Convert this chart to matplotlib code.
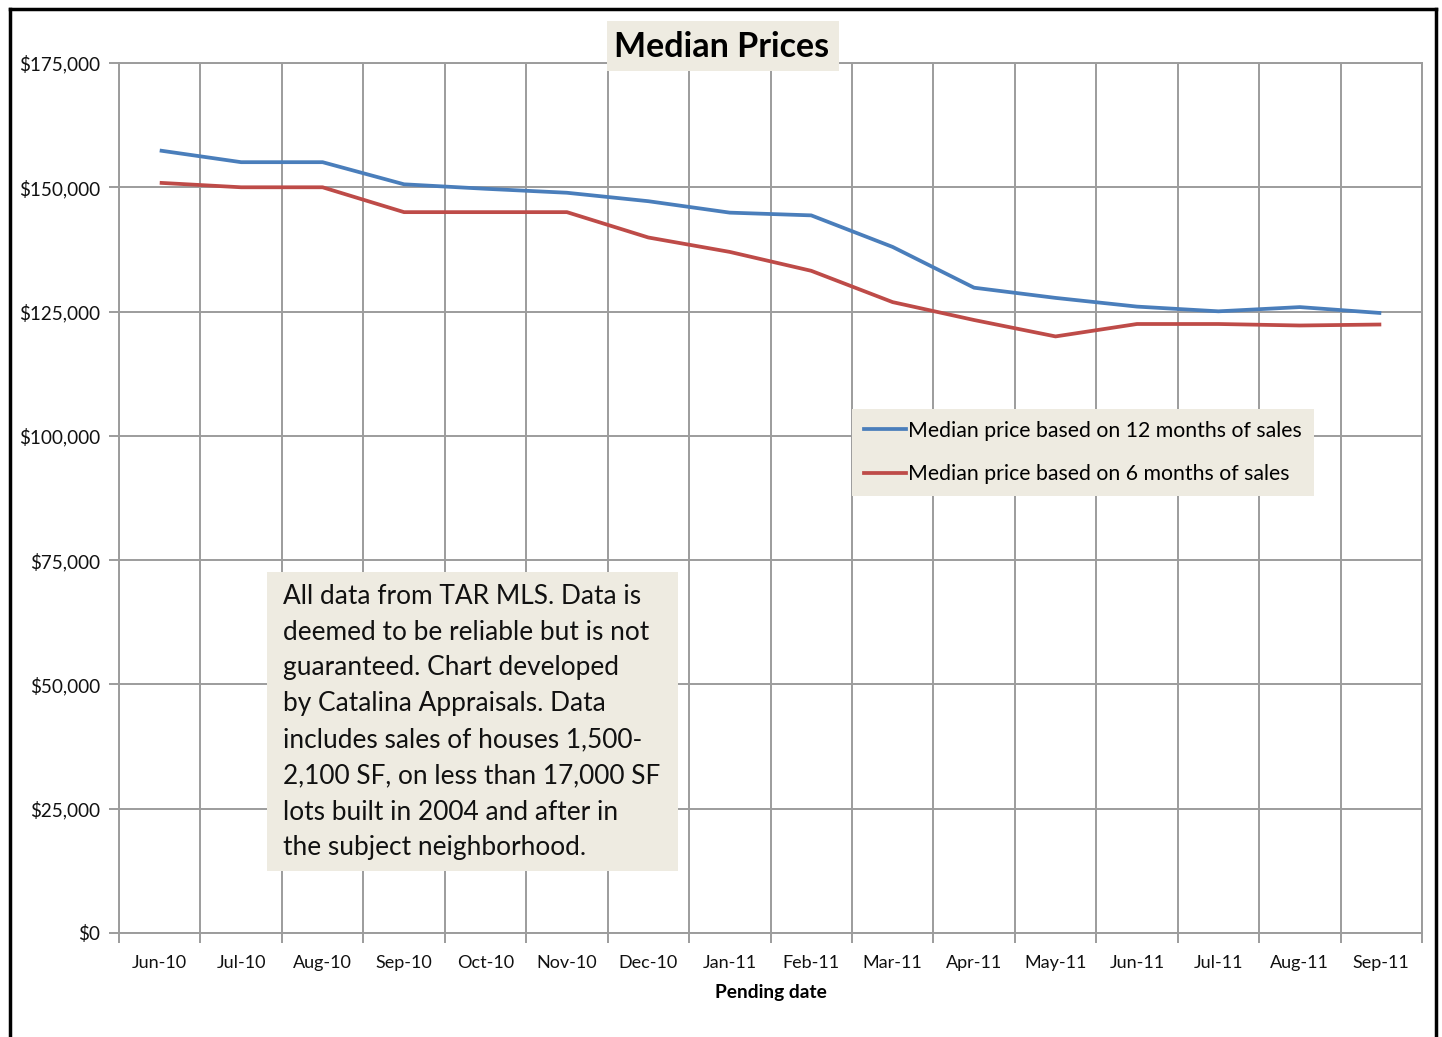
import matplotlib
matplotlib.use("Agg")
import matplotlib.pyplot as plt
from matplotlib.lines import Line2D
from matplotlib.ticker import FuncFormatter, FixedLocator

months = ["Jun-10", "Jul-10", "Aug-10", "Sep-10", "Oct-10", "Nov-10", "Dec-10", "Jan-11",
          "Feb-11", "Mar-11", "Apr-11", "May-11", "Jun-11", "Jul-11", "Aug-11", "Sep-11"]
median_12 = [157400, 155050, 155050, 150600, 149700, 148900, 147200, 144900,
             144350, 138000, 129800, 127750, 126000, 125050, 125900, 124700]
median_6 = [150900, 150000, 150000, 145000, 145000, 145000, 139900, 137000,
            133200, 126900, 123300, 120000, 122500, 122500, 122200, 122400]
y_ticks = [0, 25000, 50000, 75000, 100000, 125000, 150000, 175000]

FONT = "Lato"
BLUE = "#4A7EBB"
RED = "#BE4B48"
GRID = "#9C9C9C"
BEIGE = "#EEEBE1"

W, H = 1442, 1037
fig = plt.figure(figsize=(W / 100, H / 100), dpi=100)
fig.patch.set_facecolor("white")

ax = fig.add_axes([119 / W, 1 - 933 / H, (1422 - 119) / W, (933 - 63) / H])
x = list(range(len(months)))
ax.plot(x, median_12, color=BLUE, lw=2.7, solid_capstyle="butt", zorder=3)
ax.plot(x, median_6, color=RED, lw=2.7, solid_capstyle="butt", zorder=3)

ax.set_xlim(-0.5, len(months) - 0.5)
ax.set_ylim(0, 175000)
ax.set_yticks(y_ticks)
ax.yaxis.set_major_formatter(FuncFormatter(lambda v, p: f"${v:,.0f}"))
ax.set_xticks(x)
ax.set_xticklabels(months)
ax.xaxis.set_minor_locator(FixedLocator([i - 0.5 for i in range(len(months) + 1)]))
ax.tick_params(axis="x", which="major", length=0, pad=16, labelsize=13)
ax.tick_params(axis="x", which="minor", length=7, color=GRID, width=1.4, direction="out")
ax.tick_params(axis="y", which="major", length=7, color=GRID, width=1.4, pad=6.5, labelsize=13.6)
for lab in ax.get_xticklabels() + ax.get_yticklabels():
    lab.set_fontfamily(FONT)
    lab.set_color("#111111")

ax.grid(True, axis="y", which="major", color=GRID, lw=1.4, zorder=1)
ax.grid(True, axis="x", which="minor", color=GRID, lw=1.4, zorder=1)
for s in ax.spines.values():
    s.set_color(GRID)
    s.set_linewidth(1.4)

ax.set_xlabel("Pending date", fontfamily=FONT, fontweight="bold", fontsize=13.8, labelpad=9)

# Title
fig.patches.append(plt.Rectangle((607 / W, 1 - 71 / H), (839 - 607) / W, (71 - 21) / H,
                                 transform=fig.transFigure, fc=BEIGE, ec="none", zorder=5))
fig.text(722 / W, 1 - 47 / H, "Median Prices", ha="center", va="center",
         fontfamily=FONT, fontweight="bold", fontsize=24.5, zorder=6)

# Legend
handles = [Line2D([0], [0], color=BLUE, lw=2.7), Line2D([0], [0], color=RED, lw=2.7)]
leg = ax.legend(handles, ["Median price based on 12 months of sales",
                          "Median price based on 6 months of sales"],
                loc="upper left", bbox_to_anchor=((852 - 119) / (1422 - 119), 1 - (409 - 63) / (933 - 63)),
                frameon=True, fancybox=False, facecolor=BEIGE, edgecolor="none", framealpha=1,
                prop={"family": FONT, "size": 15.3}, handlelength=2.0, handletextpad=0.1,
                borderpad=0.55, labelspacing=1.1, borderaxespad=0)

# Annotation box
note = ("All data from TAR MLS. Data is\n"
        "deemed to be reliable but is not\n"
        "guaranteed. Chart developed\n"
        "by Catalina Appraisals. Data\n"
        "includes sales of houses 1,500-\n"
        "2,100 SF, on less than 17,000 SF\n"
        "lots built in 2004 and after in\n"
        "the subject neighborhood.")
fig.patches.append(plt.Rectangle((267 / W, 1 - 871 / H), (678 - 267) / W, (871 - 572) / H,
                                 transform=fig.transFigure, fc=BEIGE, ec="none", zorder=5))
fig.text(283 / W, 1 - 722 / H, note, ha="left", va="center", fontfamily=FONT,
         fontsize=18.9, linespacing=1.55, color="#111111", zorder=6)

# Outer frame
fig.add_artist(Line2D([10 / W, 10 / W], [0, 1 - 9 / H], transform=fig.transFigure, color="black", lw=2.5))
fig.add_artist(Line2D([10 / W, 1436 / W], [1 - 9 / H, 1 - 9 / H], transform=fig.transFigure, color="black", lw=2.5))
fig.add_artist(Line2D([1436 / W, 1436 / W], [0, 1 - 9 / H], transform=fig.transFigure, color="black", lw=2.5))

fig.savefig("out.png", dpi=100)
